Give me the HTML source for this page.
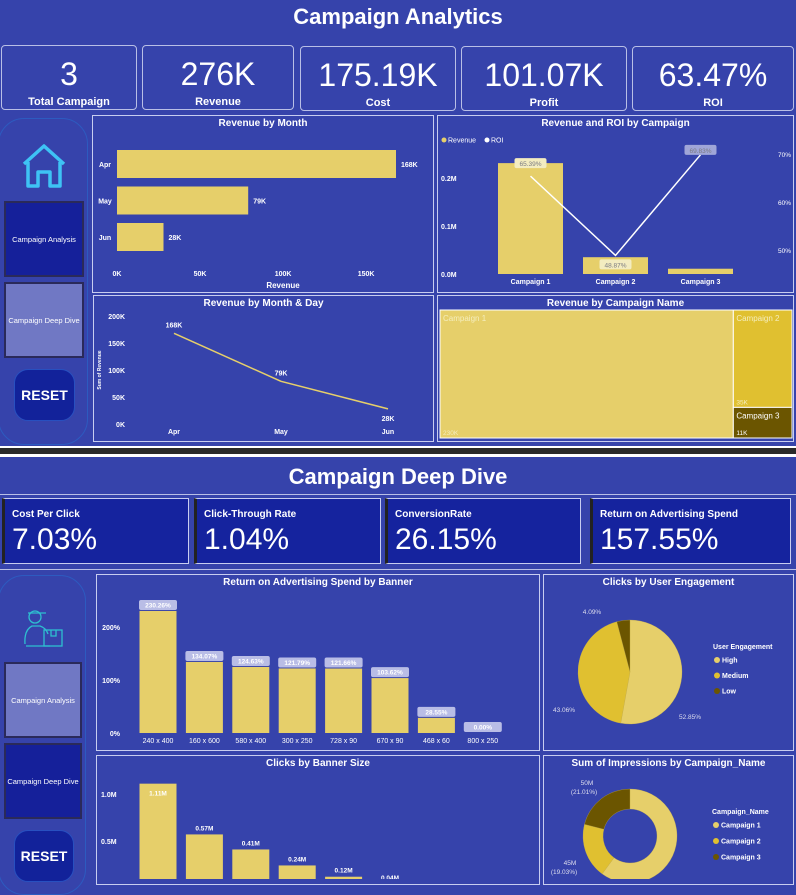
<!DOCTYPE html>
<html><head><meta charset="utf-8">
<style>
*{box-sizing:border-box;margin:0;padding:0}
body{width:796px;height:879px;overflow:hidden;background:#3643ab;font-family:"Liberation Sans",sans-serif;color:#fff;position:relative}
.a{position:absolute}
.card{position:absolute;border:1.5px solid #b9bfe6;border-radius:4px;text-align:center}
.card .v{font-size:32px;margin-top:10px;line-height:36px}
.card .l{font-size:11px;font-weight:bold;position:absolute;bottom:1px;width:100%}
.pan{position:absolute;border:1.5px solid #c8cdf0}
.pt{position:absolute;top:2px;width:100%;text-align:center;font-size:10px;font-weight:bold}
.kb{position:absolute;background:#15239e;border:1.5px solid #c8cdf0;border-left:3px solid #222}
.kb .l{font-size:10px;font-weight:bold;margin:10px 0 0 7px}
.kb .v{font-size:30px;margin:3px 0 0 7px}
.nav{position:absolute;border:2px solid #2a2a5a;font-size:7.5px;white-space:nowrap;display:flex;align-items:center;justify-content:center;text-align:center;overflow:hidden}
.reset{position:absolute;background:#12229a;border:1px solid #2850c0;border-radius:14px;font-weight:bold;font-size:14px;display:flex;align-items:center;justify-content:center}
svg text{font-family:"Liberation Sans",sans-serif}
</style></head><body>
<div class="a" style="left:0;top:4px;width:796px;text-align:center;font-size:22px;font-weight:bold">Campaign Analytics</div>
<div class="card" style="left:1px;top:45px;width:136px;height:65px"><div class="v">3</div><div class="l">Total Campaign</div></div>
<div class="card" style="left:142px;top:45px;width:152px;height:65px"><div class="v">276K</div><div class="l">Revenue</div></div>
<div class="card" style="left:300px;top:46px;width:156px;height:65px"><div class="v">175.19K</div><div class="l">Cost</div></div>
<div class="card" style="left:461px;top:46px;width:166px;height:65px"><div class="v">101.07K</div><div class="l">Profit</div></div>
<div class="card" style="left:632px;top:46px;width:162px;height:65px"><div class="v">63.47%</div><div class="l">ROI</div></div>

<div class="a" style="left:-2px;top:118px;width:90px;height:327px;border:1px solid #2d5bc0;border-radius:26px"></div>
<svg class="a" style="left:20px;top:142px" width="50" height="48" viewBox="0 0 50 48"><path d="M4 22 L24 4 L44 22 M8 20 V44 H18 V30 H30 V44 H40 V20" fill="none" stroke="#3ec3f5" stroke-width="3.5" stroke-linejoin="round"/></svg>
<div class="nav" style="left:4px;top:201px;width:80px;height:76px;background:#15209a">Campaign Analysis</div>
<div class="nav" style="left:4px;top:282px;width:80px;height:76px;background:#7078c4">Campaign Deep Dive</div>
<div class="reset" style="left:14px;top:369px;width:61px;height:52px">RESET</div>

<div class="pan" style="left:92px;top:115px;width:342px;height:178px"><div class="pt">Revenue by Month</div></div>
<svg class="a" id="c1" style="left:0;top:0" width="796" height="879"></svg>

<div class="pan" style="left:93px;top:295px;width:341px;height:147px"><div class="pt">Revenue by Month &amp; Day</div></div>
<div class="pan" style="left:437px;top:115px;width:357px;height:178px"><div class="pt">Revenue and ROI by Campaign</div></div>
<div class="pan" style="left:437px;top:295px;width:357px;height:147px"><div class="pt">Revenue by Campaign Name</div></div>

<div class="a" style="left:0;top:446px;width:796px;height:11px;background:#2a2a2a;border-top:2px solid #fff;border-bottom:3px solid #fff"></div>

<div class="a" style="left:0;top:464px;width:796px;text-align:center;font-size:22px;font-weight:bold">Campaign Deep Dive</div>
<div class="a" style="left:0;top:494px;width:796px;height:76px;border-top:1px solid #b9bfe6;border-bottom:1px solid #b9bfe6"></div>
<div class="kb" style="left:2px;top:498px;width:187px;height:66px"><div class="l">Cost Per Click</div><div class="v">7.03%</div></div>
<div class="kb" style="left:194px;top:498px;width:187px;height:66px"><div class="l">Click-Through Rate</div><div class="v">1.04%</div></div>
<div class="kb" style="left:385px;top:498px;width:196px;height:66px"><div class="l">ConversionRate</div><div class="v">26.15%</div></div>
<div class="kb" style="left:590px;top:498px;width:201px;height:66px"><div class="l">Return on Advertising Spend</div><div class="v">157.55%</div></div>

<div class="a" style="left:-2px;top:575px;width:88px;height:320px;border:1px solid #2d5bc0;border-radius:26px"></div>
<svg class="a" style="left:18px;top:604px" width="50" height="48" viewBox="0 0 50 48"><g fill="none" stroke="#2ec0d0" stroke-width="1.3"><circle cx="17" cy="13" r="6"/><path d="M10 9 H28"/><path d="M7 40 Q6 26 14 22 H22 Q28 24 30 30"/><rect x="26" y="26" width="18" height="16"/><path d="M33 26 V32 H38 V26"/><path d="M8 42 H32"/></g></svg>
<div class="nav" style="left:4px;top:662px;width:78px;height:76px;background:#7078c4">Campaign Analysis</div>
<div class="nav" style="left:4px;top:743px;width:78px;height:76px;background:#15209a">Campaign Deep Dive</div>
<div class="reset" style="left:14px;top:830px;width:60px;height:52px">RESET</div>

<div class="pan" style="left:96px;top:574px;width:444px;height:177px"><div class="pt">Return on Advertising Spend by Banner</div></div>
<div class="pan" style="left:96px;top:755px;width:444px;height:130px"><div class="pt">Clicks by Banner Size</div></div>
<div class="pan" style="left:543px;top:574px;width:251px;height:177px"><div class="pt">Clicks by User Engagement</div></div>
<div class="pan" style="left:543px;top:755px;width:251px;height:130px"><div class="pt">Sum of Impressions by Campaign_Name</div></div>

<script>
const months=["Apr","May","Jun"];
const monthRevenue=[168,79,28];
const monthLabels=["168K","79K","28K"];
const revTicks=[0,50,100,150];
const lineTicks=[0,50,100,150,200];
const campaigns=["Campaign 1","Campaign 2","Campaign 3"];
const campRevenue=[0.231,0.035,0.011];
const campROI=[65.39,48.87,69.83];
const revAxisTicks=[0,0.1,0.2];
const roiTicks=[50,60,70];
const treeValues=[230,35,11];
const treeLabels=["230K","35K","11K"];
const banners=["240 x 400","160 x 600","580 x 400","300 x 250","728 x 90","670 x 90","468 x 60","800 x 250"];
const roas=[230.26,134.07,124.63,121.79,121.66,103.62,28.55,0];
const roasTicks=[0,100,200];
const clicks=[1.11,0.57,0.41,0.24,0.12,0.04,0.00,0.00];
const clickTicks=[0.5,1.0];
const engagement=["High","Medium","Low"];
const engagementPct=[52.85,43.06,4.09];
const impressions=[143,45,50];
const impressionPct=[59.96,19.03,21.01];

const Y="#e6cf6a",Y2="#e0c030",D="#6b5500";
const cols=[Y,Y2,D];
const svg=document.getElementById('c1');
const NS="http://www.w3.org/2000/svg";
function mk(t,a,txt){const e=document.createElementNS(NS,t);for(const k in a)e.setAttribute(k,a[k]);if(txt!==undefined)e.textContent=txt;svg.appendChild(e);return e;}
function tx(x,y,s,o){return mk('text',Object.assign({x:x,y:y,fill:'#fff','font-size':7,'font-weight':'bold','text-anchor':'middle'},o||{}),s);}

const xM=v=>117+v*279/168;
revTicks.forEach(t=>tx(xM(t),276,t+"K"));
tx(283,288,"Revenue",{'font-size':8});
months.forEach((m,i)=>{const y=150+i*36.5;
 const r=mk('rect',{x:117,y:y,width:xM(monthRevenue[i])-117,height:28,fill:Y});
 
 
 tx(105,y+17,m);tx(xM(monthRevenue[i])+5,y+17,monthLabels[i],{'text-anchor':'start'});});

const yL=v=>424-v*0.54;
const xL=i=>174+i*107;
lineTicks.forEach(t=>tx(125,yL(t)+3,t+"K",{'text-anchor':'end'}));
tx(101,370,"Sum of Revenue",{'font-size':5,transform:'rotate(-90 101 370)'});
let pts=monthRevenue.map((v,i)=>xL(i)+","+yL(v)).join(" ");
const pl=mk('polyline',{points:pts,fill:'none',stroke:Y,'stroke-width':1.5});


months.forEach((m,i)=>{tx(xL(i),434,m);tx(xL(i),yL(monthRevenue[i])-(i==2?-12:6),monthLabels[i]);});

mk('circle',{cx:444,cy:140,r:2.5,fill:Y});tx(448,142.5,"Revenue",{'text-anchor':'start','font-weight':'normal','font-size':7});
mk('circle',{cx:487,cy:140,r:2.5,fill:'#fff'});tx(491,142.5,"ROI",{'text-anchor':'start','font-weight':'normal','font-size':7});
const yR=v=>274-v*480;
const yO=v=>250-(v-50)*4.8;
const xC=i=>530.5+i*85;
revAxisTicks.forEach(t=>tx(441,yR(t)+3,t.toFixed(1)+"M",{'text-anchor':'start'}));
roiTicks.forEach(t=>tx(791,yO(t)+3,t+"%",{'text-anchor':'end','font-weight':'normal','font-size':6.5}));
campaigns.forEach((c,i)=>{const r=mk('rect',{x:xC(i)-32.5,y:yR(campRevenue[i]),width:65,height:274-yR(campRevenue[i]),fill:Y});
 
 
 tx(xC(i),284,c);});
const rl=mk('polyline',{points:campROI.map((v,i)=>xC(i)+","+yO(v)).join(" "),fill:'none',stroke:'#fff','stroke-width':1.5});


campROI.forEach((v,i)=>{const y=i==1?yO(v)+10:yO(v)-12+(i==2?8:0);
 mk('rect',{x:xC(i)-16,y:y-6,width:32,height:10,rx:2,fill:i==2?'#a0a6d8':'#f3ecc0'});
 tx(xC(i),y+2,v.toFixed(2)+"%",{fill:'#7a7a80','font-weight':'normal','font-size':6.5});});

const tot=treeValues.reduce((a,b)=>a+b);
const tx0=440,ty0=310,tw=352,th=128;
const w1=tw*treeValues[0]/tot;
const hb=th*treeValues[1]/(treeValues[1]+treeValues[2]);
const tr=[[tx0,ty0,w1,th],[tx0+w1,ty0,tw-w1,hb],[tx0+w1,ty0+hb,tw-w1,th-hb]];
tr.forEach((r,i)=>{const e=mk('rect',{x:r[0],y:r[1],width:r[2],height:r[3],fill:cols[i],stroke:'#fff','stroke-width':1});
 
 
 tx(r[0]+3,r[1]+11,campaigns[i],{'text-anchor':'start','font-weight':'normal','font-size':8,fill:i==2?'#fff':'#f5eebd'});
 tx(r[0]+3,r[1]+r[3]-3,treeLabels[i],{'text-anchor':'start','font-weight':'normal','font-size':6.5,fill:i==2?'#fff':'#f5eebd'});});

const yS=v=>733-v*0.53;
const xB=i=>158+i*46.4;
roasTicks.forEach(t=>tx(120,yS(t)+3,t+"%",{'text-anchor':'end'}));
banners.forEach((b,i)=>{const r=mk('rect',{x:xB(i)-18.5,y:yS(roas[i]),width:37,height:733-yS(roas[i]),fill:Y});
 
 
 tx(xB(i),743,b,{'font-weight':'normal'});
 const ly=yS(roas[i])-6;
 mk('rect',{x:xB(i)-19,y:ly-5,width:38,height:10,rx:2,fill:'#b9bde6'});
 tx(xB(i),ly+2.5,roas[i].toFixed(2)+"%",{'font-size':6.5});});

const yK=v=>888-v*94;
clickTicks.forEach(t=>tx(101,yK(t)+3,t.toFixed(1)+"M",{'text-anchor':'start'}));
clicks.forEach((v,i)=>{const r=mk('rect',{x:xB(i)-18.5,y:yK(v),width:37,height:888-yK(v),fill:Y});
 
 
 tx(xB(i),i==0?yK(v)+12:yK(v)-4,v.toFixed(2)+"M",{'font-size':6.5});});

function arcs(cx,cy,R,r0,vals,name){let a=-Math.PI/2;const T=vals.reduce((x,y)=>x+y);
 vals.forEach((v,i)=>{const b=a+2*Math.PI*v/T;const L=(b-a)>Math.PI?1:0;
  const p=(rr,ang)=>[cx+rr*Math.cos(ang),cy+rr*Math.sin(ang)];
  const [x1,y1]=p(R,a),[x2,y2]=p(R,b);let d;
  if(r0>0){const [x3,y3]=p(r0,b),[x4,y4]=p(r0,a);d=`M${x1},${y1}A${R},${R} 0 ${L} 1 ${x2},${y2}L${x3},${y3}A${r0},${r0} 0 ${L} 0 ${x4},${y4}Z`;}
  else d=`M${cx},${cy}L${x1},${y1}A${R},${R} 0 ${L} 1 ${x2},${y2}Z`;
  const e=mk('path',{d:d,fill:cols[i],stroke:'#c9b14a','stroke-width':0.3});
  
  
  a=b;});}
arcs(630,672,52,0,engagementPct,'engagement-slice');
tx(592,614,engagementPct[2].toFixed(2)+"%",{'font-weight':'normal','font-size':6.5,fill:'#dde'});
tx(564,712,engagementPct[1].toFixed(2)+"%",{'font-weight':'normal','font-size':6.5,fill:'#dde'});
tx(690,719,engagementPct[0].toFixed(2)+"%",{'font-weight':'normal','font-size':6.5,fill:'#dde'});
tx(713,649,"User Engagement",{'text-anchor':'start','font-size':7});
engagement.forEach((n,i)=>{mk('circle',{cx:717,cy:660+i*15.5,r:3,fill:cols[i]});tx(722,662.5+i*15.5,n,{'text-anchor':'start','font-size':7});});

arcs(630,836,47,27,impressions,'impression-slice');
tx(587,785,impressions[2]+"M",{'font-weight':'normal','font-size':6.5,fill:'#dde'});
tx(584,794,"("+impressionPct[2].toFixed(2)+"%)",{'font-weight':'normal','font-size':6.5,fill:'#dde'});
tx(570,865,impressions[1]+"M",{'font-weight':'normal','font-size':6.5,fill:'#dde'});
tx(564,874,"("+impressionPct[1].toFixed(2)+"%)",{'font-weight':'normal','font-size':6.5,fill:'#dde'});
tx(712,814,"Campaign_Name",{'text-anchor':'start','font-size':7});
campaigns.forEach((n,i)=>{mk('circle',{cx:716,cy:825+i*16,r:3,fill:cols[i]});tx(721,827.5+i*16,n,{'text-anchor':'start','font-size':7});});
</script>
</body></html>
